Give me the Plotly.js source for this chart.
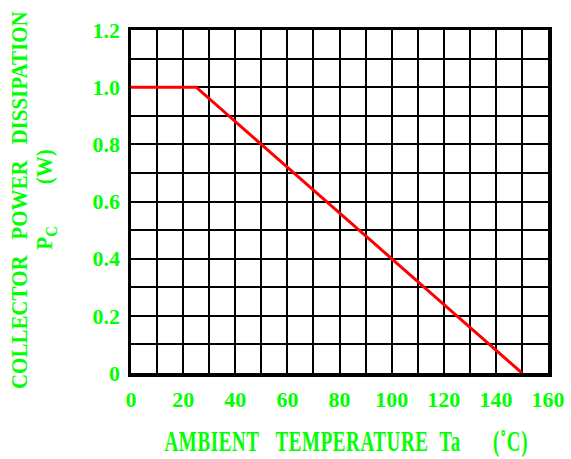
<!DOCTYPE html>
<html>
<head>
<meta charset="utf-8">
<script src="https://cdn.plot.ly/plotly-3.0.1.min.js"></script>
<style>
html,body{margin:0;padding:0;background:#fff;}
#chart{width:571px;height:459px;}
g.annotation[data-index="0"] text.annotation-text{
  transform-box: fill-box; transform-origin: 50% 50%;
  transform: scaleY(1.5); letter-spacing: 0.6px;
}
g.annotation[data-index="1"] text.annotation-text,
g.annotation[data-index="2"] text.annotation-text{
  transform-box: fill-box; transform-origin: 50% 50%;
  transform: scaleY(1.08);
}
</style>
</head>
<body>
<div id="chart"></div>
<script>
// Data
const temperatureC = [0, 25, 150];
const powerW = [1.0, 1.0, 0];
const xTickVals = [0, 20, 40, 60, 80, 100, 120, 140, 160];
const xTickText = ['0', '20', '40', '60', '80', '100', '120', '140', '160'];
const yTickVals = [0, 0.2, 0.4, 0.6, 0.8, 1.0, 1.2];
const yTickText = ['0', '0.2', '0.4', '0.6', '0.8', '1.0', '1.2'];
const NB = '\u00A0';
const xTitle = 'AMBIENT' + NB.repeat(3) + 'TEMPERATURE' + NB.repeat(2) + 'Ta' + NB.repeat(6) + '(˚C)';
const yTitleLine1 = 'COLLECTOR' + NB.repeat(3) + 'POWER' + NB.repeat(3) + 'DISSIPATION';
const yTitleLine2 = 'P<sub>C</sub>' + NB.repeat(8) + '(W)';

const green = '#00ff00';
const fontFam = '"Liberation Serif", "Times New Roman", serif';

const trace = {
  x: temperatureC, y: powerW, mode: 'lines', type: 'scatter',
  line: {color: '#ff0000', width: 3}, hoverinfo: 'skip'
};

const layout = {
  width: 571, height: 459,
  margin: {l: 131, r: 23, t: 30, b: 86},
  paper_bgcolor: '#fff', plot_bgcolor: '#fff',
  showlegend: false,
  font: {family: fontFam, color: green, size: 16, weight: 'bold'},
  xaxis: {
    range: [0, 160],
    tickmode: 'array', tickvals: xTickVals, ticktext: xTickText,
    showgrid: true, gridcolor: '#000', gridwidth: 2,
    minor: {tickmode: 'linear', tick0: 0, dtick: 10, showgrid: true, gridcolor: '#000', gridwidth: 2, ticks: ''},
    zeroline: false, showline: true, linecolor: '#000', linewidth: 3.5, mirror: true,
    ticks: '', ticklen: 0, ticklabelstandoff: 4,
    tickfont: {family: fontFam, color: green, size: 22, weight: 'bold'},
    fixedrange: true
  },
  yaxis: {
    range: [0, 1.2],
    tickmode: 'array', tickvals: yTickVals, ticktext: yTickText,
    showgrid: true, gridcolor: '#000', gridwidth: 2,
    minor: {tickmode: 'linear', tick0: 0, dtick: 0.1, showgrid: true, gridcolor: '#000', gridwidth: 2, ticks: ''},
    zeroline: false, showline: true, linecolor: '#000', linewidth: 3.5, mirror: true,
    ticks: '', ticklen: 0, ticklabelstandoff: 3,
    tickfont: {family: fontFam, color: green, size: 22, weight: 'bold'},
    fixedrange: true
  },
  annotations: [
    {
      text: xTitle, xref: 'paper', yref: 'paper', x: 0.516, y: -0.2,
      xanchor: 'center', yanchor: 'middle', showarrow: false,
      font: {family: fontFam, color: green, size: 19, weight: 'bold'}
    },
    {
      text: yTitleLine1, xref: 'paper', yref: 'paper',
      x: -0.266, y: 0.504, xanchor: 'center', yanchor: 'middle', textangle: -90,
      showarrow: false,
      font: {family: fontFam, color: green, size: 21, weight: 'bold'}
    },
    {
      text: yTitleLine2, xref: 'paper', yref: 'paper',
      x: -0.205, y: 0.504, xanchor: 'center', yanchor: 'middle', textangle: -90,
      showarrow: false,
      font: {family: fontFam, color: green, size: 21, weight: 'bold'}
    }
  ]
};

Plotly.newPlot('chart', [trace], layout, {displayModeBar: false, staticPlot: true});
</script>
</body>
</html>
